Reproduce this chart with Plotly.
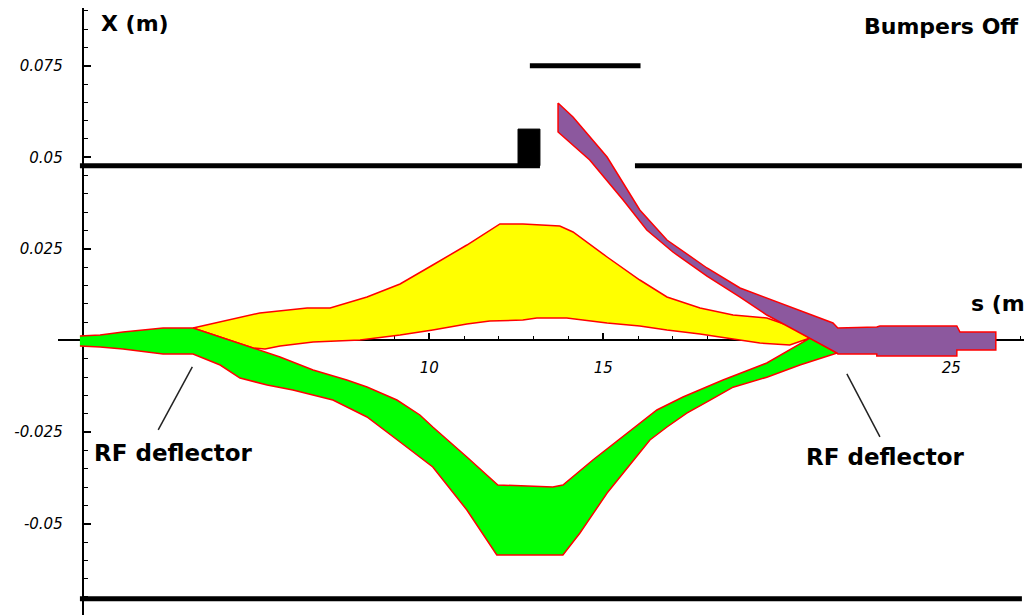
import plotly.graph_objects as go

# ---------------- data (s in m, X in m) ----------------
# Green band (beam kicked downward); polygon: upper edge left->right, lower edge right->left
GREEN_S = [-0.04, 0.54, 1.20, 2.35, 3.21, 3.99, 4.94, 5.71, 6.66, 7.63, 8.21, 9.07, 9.73,
           10.10, 11.08, 11.97, 13.55, 13.84, 14.70, 16.05, 16.54, 17.29, 18.44, 19.70, 20.94,
           21.72, 20.65, 19.70, 18.73, 18.07, 17.40, 16.83, 16.34, 15.11, 14.33, 13.84, 11.94,
           11.08, 10.10, 9.16, 8.21, 7.23, 6.08, 5.34, 4.56, 3.99, 3.21, 2.35, 1.20, 0.54, -0.04]
GREEN_X = [0.0012, 0.0015, 0.0023, 0.0034, 0.0034, 0.00096, -0.00205, -0.0045, -0.00805, -0.01078,
           -0.01269, -0.01624, -0.02033, -0.02361, -0.0318, -0.03944, -0.03999, -0.03944, -0.03262,
           -0.02252, -0.01897, -0.01542, -0.01078, -0.00614, 0.00068,
           -0.00341, -0.00669, -0.01001, -0.01274, -0.01629, -0.01984, -0.02361, -0.02715, -0.04163,
           -0.05255, -0.05855, -0.05855, -0.04627, -0.03453, -0.0277, -0.02088, -0.01624, -0.01351,
           -0.01215, -0.01024, -0.00669, -0.00368, -0.00368, -0.00232, -0.00177, -0.0015]

# Yellow band (beam kicked upward)
YELLOW_S = [3.21, 3.99, 5.13, 6.49, 7.15, 8.21, 9.16, 10.10, 11.08, 12.03, 12.69, 13.75, 14.13,
            15.11, 16.05, 16.83, 17.78, 18.73, 19.70, 20.36, 20.94,
            20.36, 19.50, 18.73, 17.78, 16.83, 16.05, 15.11, 13.95, 13.09, 12.69, 11.74, 11.08,
            10.10, 9.16, 8.01, 6.66, 5.71, 5.28, 4.94, 3.99, 3.21]
YELLOW_X = [0.00341, 0.00505, 0.00751, 0.00887, 0.00887, 0.01187, 0.01542, 0.02061, 0.02606,
            0.0318, 0.0318, 0.03125, 0.02961, 0.02279, 0.01651, 0.01187, 0.00887, 0.00696,
            0.00614, 0.00396, 0.00068,
            -0.00123, -0.00068, 0.00041, 0.00177, 0.00287, 0.00396, 0.00478, 0.00614, 0.00614,
            0.0056, 0.00532, 0.0045, 0.00287, 0.0015, 0.00014, -0.00041, -0.0015, -0.00232,
            -0.00205, 0.00096, 0.00341]

# Purple band (extracted beam)
PURPLE_S = [13.70, 14.13, 15.11, 16.05, 16.83, 17.98, 18.93, 20.36, 21.60, 21.74, 22.86, 22.95,
            25.16, 25.25, 26.28,
            26.28, 25.16, 25.16, 22.86, 22.86, 21.74, 21.72, 20.85, 19.70, 18.93, 17.98, 17.00,
            16.25, 15.57, 14.61, 13.70, 13.70]
PURPLE_X = [0.06482, 0.061, 0.05008, 0.03562, 0.02743, 0.01979, 0.01433, 0.00914, 0.00478,
            0.00341, 0.00368, 0.00396, 0.00396, 0.00232, 0.00232,
            -0.00259, -0.00259, -0.00423, -0.00423, -0.00368, -0.00368, -0.00341, 0.00096,
            0.00696, 0.01187, 0.0176, 0.02415, 0.03016, 0.03834, 0.04926, 0.0569, 0.06482]

# Aperture walls (black)
WALL_LEFT_S = [-0.04, 13.18]
WALL_LEFT_X = [0.0477, 0.0477]
WALL_BLOCK_S = [12.55, 13.18, 13.18, 12.55, 12.55]
WALL_BLOCK_X = [0.0477, 0.0477, 0.0577, 0.0577, 0.0477]
WALL_TOP_S = [12.89, 16.07]
WALL_TOP_X = [0.075, 0.075]
WALL_RIGHT_S = [15.91, 27.03]
WALL_RIGHT_X = [0.0477, 0.0477]
WALL_BOTTOM_S = [-0.04, 27.03]
WALL_BOTTOM_X = [-0.0705, -0.0705]

# Pointer lines for "RF deflector" labels
POINTER_LEFT_S = [3.19, 2.21]
POINTER_LEFT_X = [-0.0072, -0.0244]
POINTER_RIGHT_S = [22.0, 22.95]
POINTER_RIGHT_X = [-0.0091, -0.0263]

# Ticks
X_TICKS = [5, 10, 15, 20, 25]
X_TICK_LABELS = ["", "10", "15", "", "25"]
Y_TICKS = [-0.05, -0.025, 0, 0.025, 0.05, 0.075]
Y_TICK_LABELS = ["-0.05", "-0.025", "", "0.025", "0.05", "0.075"]

X_RANGE = [-0.67, 27.32]
Y_RANGE = [-0.07492, 0.09075]

# ---------------- figure ----------------
# The page body has an 8 px margin, so the figure is sized/offset to compensate.
OFF = 8
W, H = 1032 - OFF, 615 - OFF
ML, MR, MT, MB = 58 - OFF, 0, 8 - OFF, 0
PW, PH = W - ML - MR, H - MT - MB


def px_x(px):
    return (px - OFF - ML) / PW


def px_y(py):
    return (H - MB - (py - OFF)) / PH


RED = "rgb(255,0,0)"
fig = go.Figure()

fig.add_trace(go.Scatter(x=YELLOW_S, y=YELLOW_X, mode="lines", fill="toself",
                         fillcolor="rgb(255,255,0)", line=dict(color=RED, width=1.5),
                         hoverinfo="skip"))
fig.add_trace(go.Scatter(x=GREEN_S, y=GREEN_X, mode="lines", fill="toself",
                         fillcolor="rgb(0,255,0)", line=dict(color=RED, width=1.5),
                         hoverinfo="skip"))
fig.add_trace(go.Scatter(x=PURPLE_S, y=PURPLE_X, mode="lines", fill="toself",
                         fillcolor="rgb(140,88,158)", line=dict(color=RED, width=1.5),
                         hoverinfo="skip"))

for xs, ys in [(WALL_LEFT_S, WALL_LEFT_X), (WALL_TOP_S, WALL_TOP_X),
               (WALL_RIGHT_S, WALL_RIGHT_X), (WALL_BOTTOM_S, WALL_BOTTOM_X)]:
    fig.add_trace(go.Scatter(x=xs, y=ys, mode="lines", line=dict(color="black", width=5),
                             hoverinfo="skip"))
fig.add_trace(go.Scatter(x=WALL_BLOCK_S, y=WALL_BLOCK_X, mode="lines", fill="toself",
                         fillcolor="black", line=dict(color="black", width=1),
                         hoverinfo="skip"))

for xs, ys in [(POINTER_LEFT_S, POINTER_LEFT_X), (POINTER_RIGHT_S, POINTER_RIGHT_X)]:
    fig.add_trace(go.Scatter(x=xs, y=ys, mode="lines", line=dict(color="#222222", width=1.5),
                             hoverinfo="skip"))

TICKFONT = dict(family="DejaVu Sans", size=15, color="black", style="italic")

fig.update_xaxes(
    range=X_RANGE, anchor="free",
    position=(0 - Y_RANGE[0]) / (Y_RANGE[1] - Y_RANGE[0]),
    showline=True, linecolor="black", linewidth=1.5,
    showgrid=False, zeroline=False,
    tickmode="array", tickvals=X_TICKS, ticktext=X_TICK_LABELS,
    ticks="inside", ticklen=7, tickwidth=1.5, tickcolor="black",
    minor=dict(dtick=1, ticks="inside", ticklen=4, tickwidth=1.2, tickcolor="black"),
    tickfont=TICKFONT, ticklabelstandoff=14, layer="below traces",
)
fig.update_yaxes(
    range=Y_RANGE, anchor="free",
    position=(0.04 - X_RANGE[0]) / (X_RANGE[1] - X_RANGE[0]),
    showline=True, linecolor="black", linewidth=2,
    showgrid=False, zeroline=False,
    tickmode="array", tickvals=Y_TICKS, ticktext=Y_TICK_LABELS,
    ticks="inside", ticklen=7, tickwidth=1.5, tickcolor="black",
    minor=dict(dtick=0.005, tick0=0, ticks="inside", ticklen=4, tickwidth=1.2, tickcolor="black"),
    tickfont=TICKFONT, ticklabelstandoff=16, layer="below traces",
)

LABEL_FONT = dict(family="DejaVu Sans", size=22, color="black")
RF_FONT = dict(family="DejaVu Sans", size=23, color="black")
annotations = [
    dict(text="<b>X (m)</b>", x=px_x(99), y=px_y(24), xanchor="left", yanchor="middle",
         font=LABEL_FONT),
    dict(text="<b>Bumpers Off</b>", x=px_x(1021), y=px_y(26), xanchor="right", yanchor="middle",
         font=LABEL_FONT),
    dict(text="<b>s (m)</b>", x=px_x(969), y=px_y(303), xanchor="left", yanchor="middle",
         font=LABEL_FONT),
    dict(text="<b>RF deflector</b>", x=px_x(92), y=px_y(453), xanchor="left", yanchor="middle",
         font=RF_FONT),
    dict(text="<b>RF deflector</b>", x=px_x(804), y=px_y(457), xanchor="left", yanchor="middle",
         font=RF_FONT),
]
for a in annotations:
    a.update(xref="paper", yref="paper", showarrow=False)

fig.update_layout(
    width=W, height=H,
    margin=dict(l=ML, r=MR, t=MT, b=MB, pad=0),
    paper_bgcolor="white", plot_bgcolor="white",
    showlegend=False, annotations=annotations,
)

fig.write_html("out.html")
